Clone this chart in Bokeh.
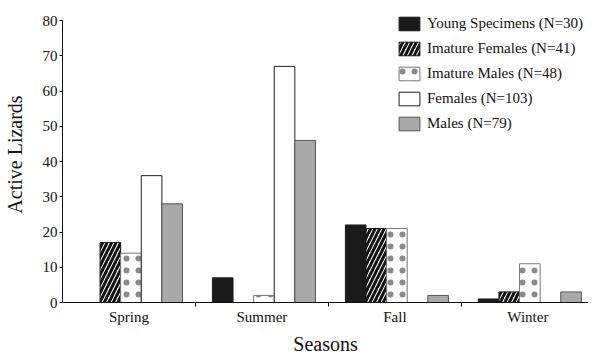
import numpy as np
from bokeh.plotting import figure
from bokeh.models import Range1d, FixedTicker, Legend, LegendItem, ColumnDataSource
from bokeh.embed import file_html
from bokeh.resources import INLINE

seasons = ["Spring", "Summer", "Fall", "Winter"]
series_names = ["Young Specimens (N=30)", "Imature Females (N=41)",
                "Imature Males (N=48)", "Females (N=103)", "Males (N=79)"]
young = [0, 7, 22, 1]
imature_females = [17, 0, 21, 3]
imature_males = [14, 2, 21, 11]
females = [36, 67, 0, 0]
males = [28, 46, 2, 3]
y_ticks = [0, 10, 20, 30, 40, 50, 60, 70, 80]

FONT = "Liberation Serif"
bar_w = 0.155

p = figure(width=588, height=359, output_backend="svg", toolbar_location=None,
           x_range=Range1d(0, 3.956), y_range=Range1d(0, 84),
           min_border_left=54, min_border_right=0, min_border_top=6, min_border_bottom=57)
p.outline_line_color = None
p.grid.visible = False
p.background_fill_color = "white"
p.border_fill_color = "white"

styles = [
    dict(fill_color="#1a1a1a", line_color="#1a1a1a"),
    dict(fill_color="white", line_color="#111111", hatch_pattern="right_diagonal_line",
         hatch_color="#111111", hatch_weight=3, hatch_scale=9),
    dict(fill_color="white", line_color="#777777", hatch_pattern="dot",
         hatch_color="#8a8a8a", hatch_weight=0.5, hatch_scale=12),
    dict(fill_color="white", line_color="#222222"),
    dict(fill_color="#a9a9a9", line_color="#555555"),
]
data = [young, imature_females, imature_males, females, males]
centers = np.arange(len(seasons)) + 0.515
items = []
for k, (vals, st, name) in enumerate(zip(data, styles, series_names)):
    xs = centers + (k - 2) * bar_w
    src = ColumnDataSource(dict(x=xs, top=vals))
    r = p.vbar(x="x", top="top", bottom=0, width=bar_w, source=src, line_width=1, **st)
    items.append(LegendItem(label=name, renderers=[r]))

legend = Legend(items=items, location=(334, 170))
legend.background_fill_alpha = 0
legend.border_line_color = None
legend.padding = 0
legend.margin = 0
legend.spacing = 8
legend.glyph_width = 26
legend.glyph_height = 17
legend.label_height = 17
legend.label_standoff = 5
legend.label_text_font = FONT
legend.label_text_font_size = "15px"
legend.label_text_color = "#111111"
p.add_layout(legend)

# y axis (line stops at 80)
p.yaxis.bounds = (0, 80)
p.yaxis.ticker = FixedTicker(ticks=y_ticks)
p.yaxis.minor_tick_line_color = None
p.yaxis.major_tick_out = 3
p.yaxis.major_tick_in = 0
p.yaxis.major_label_standoff = 2
p.yaxis.major_label_text_font = FONT
p.yaxis.major_label_text_font_size = "15px"
p.yaxis.axis_label = "Active Lizards"
p.yaxis.axis_label_text_font = FONT
p.yaxis.axis_label_text_font_size = "20px"
p.yaxis.axis_label_text_font_style = "normal"
p.yaxis.axis_label_standoff = 14

# x axis: labels at group centres, small ticks at group boundaries
p.xaxis.ticker = FixedTicker(ticks=[0.5, 1.5, 2.5, 3.5], minor_ticks=[1, 2, 3])
p.xaxis.major_label_overrides = {0.5: "Spring", 1.5: "Summer", 2.5: "Fall", 3.5: "Winter"}
p.xaxis.major_tick_line_color = None
p.xaxis.major_tick_out = 0
p.xaxis.minor_tick_out = 4
p.xaxis.minor_tick_in = 0
p.xaxis.major_label_standoff = 2
p.xaxis.major_label_text_font = FONT
p.xaxis.major_label_text_font_size = "15px"
p.xaxis.axis_label = "Seasons"
p.xaxis.axis_label_text_font = FONT
p.xaxis.axis_label_text_font_size = "20px"
p.xaxis.axis_label_text_font_style = "normal"
p.xaxis.axis_label_standoff = 5

for ax in (p.xaxis, p.yaxis):
    ax.axis_line_color = "#111111"
    ax.major_label_text_color = "#111111"
    ax.axis_label_text_color = "#111111"

open("out.html", "w").write(file_html(p, INLINE))
